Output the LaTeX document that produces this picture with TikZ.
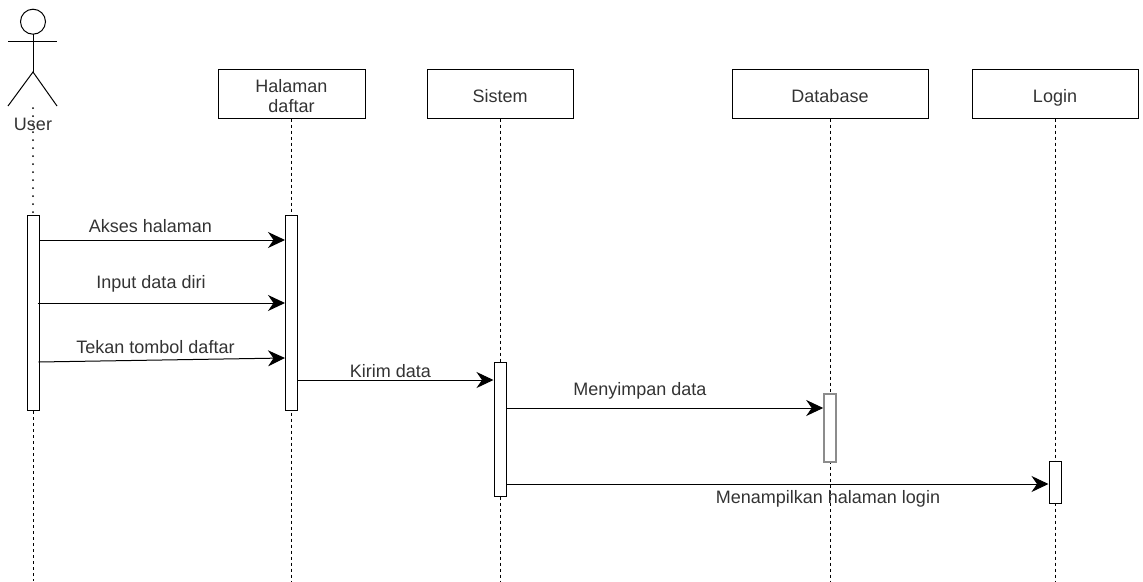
\documentclass[tikz,border=0pt]{standalone}
\usepackage{fontspec}
\setmainfont{Liberation Sans}
\usetikzlibrary{arrows.meta, positioning}

\begin{document}
\begin{tikzpicture}[x=1pt, y=-1pt, line width=1pt,
        font=\fontsize{18}{20}\selectfont,
        head/.style={rectangle, draw, minimum height=49pt, inner sep=0pt, align=center, text=black!80},
        one/.style={text height=22pt, text depth=4pt},
        bar/.style={rectangle, draw, fill=white, minimum width=12pt, inner sep=0pt, anchor=north},
        life/.style={dash pattern=on 3pt off 3pt},
        msg/.style={-{Stealth[length=17pt, width=16pt, inset=5.5pt]}},
        lbl/.style={text=black!80, inner sep=0pt, text height=13pt, text depth=4pt}]
            \useasboundingbox (0,0) rectangle (1143,581);

            % actor
            \coordinate (user) at (33,0);
            \draw (33,21.7) circle (12.5);
            \draw (8,41) -- (57,41);
            \draw (33,34.2) -- (33,72);
            \draw (8,106) -- (33,72) -- (57,106);
            \draw[line width=2pt, line cap=round, dash pattern=on 0pt off 8pt] (33,108) -- (33,213);
            \node[lbl] (userlbl) at (33,126.4) {User};

            % lifeline heads
            \node[head, minimum width=147pt] (halaman) at (291.5,93.5) {\rule{0pt}{18pt}Halaman\\daftar};
            \node[head, one, minimum width=146pt] (sistem) at (500,93.5) {Sistem};
            \node[head, one, minimum width=196pt] (database) at (830,93.5) {Database};
            \node[head, one, minimum width=166pt] (login) at (1055,93.5) {Login};

            \draw[life] (halaman.south) -- (halaman.south |- 0,581);
            \draw[life] (sistem.south) -- (sistem.south |- 0,581);
            \draw[life] (database.south) -- (database.south |- 0,581);
            \draw[life] (login.south) -- (login.south |- 0,581);

            % activations
            \node[bar, minimum height=195pt] (actUser) at (33,215) {};
            \node[bar, minimum height=195pt] (actHalaman) at (halaman.south |- 0,215) {};
            \node[bar, minimum height=134pt] (actSistem) at (sistem.south |- 0,362) {};
            \node[bar, minimum height=68pt, draw=black!45, line width=1.6pt] (actDatabase) at (database.south |- 0,393) {};
            \node[bar, minimum height=42pt] (actLogin) at (login.south |- 0,461) {};
            \draw[life] (actUser.south) -- (actUser.south |- 0,581);

            % messages
            \draw[msg] (actUser.east |- 0,240) -- (actHalaman.west |- 0,240);
            \node[lbl] (tAkses) at (150.5,228) {Akses halaman};
            \draw[msg] ([xshift=-2pt]actUser.east |- 0,303) -- (actHalaman.west |- 0,303);
            \node[lbl] (tInput) at (151,284) {Input data diri};
            \draw[msg] ([xshift=-1pt]actUser.east |- 0,362) -- (actHalaman.west |- 0,358);
            \node[lbl] (tTekan) at (155.5,349) {Tekan tombol daftar};
            \draw[msg] (actHalaman.east |- 0,380) -- (actSistem.west |- 0,380);
            \node[lbl] (tKirim) at (390.5,373) {Kirim data};
            \draw[msg] (actSistem.east |- 0,408) -- (actDatabase.west |- 0,408);
            \node[lbl] (tSimpan) at (640,391.3) {Menyimpan data};
            \draw[msg] (actSistem.east |- 0,484) -- (actLogin.west |- 0,484);
            \node[lbl] (tTampil) at (828,499) {Menampilkan halaman login};
        \end{tikzpicture}
\end{document}
